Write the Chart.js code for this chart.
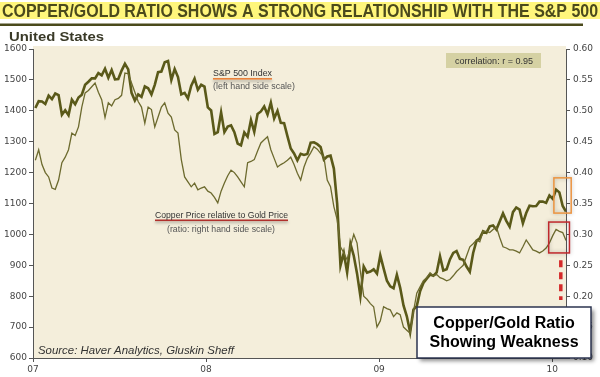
<!DOCTYPE html>
<html>
<head>
<meta charset="utf-8">
<script src="https://cdn.jsdelivr.net/npm/chart.js@4.4.1/dist/chart.umd.min.js"></script>
<style>
  html, body { margin: 0; padding: 0; background: #fff; }
  #wrap { width: 600px; height: 377px; }
</style>
</head>
<body>
<div id="wrap"><canvas id="chart" width="600" height="377"></canvas></div>
<script>
// weekly closes, first week ends Jan 5 2007
const firstDay = 5;

const spx = [
  1409, 1431, 1430, 1422, 1449, 1438, 1456, 1451, 1387, 1402,
  1386, 1436, 1421, 1443, 1452, 1484, 1494, 1505, 1505, 1522,
  1515, 1536, 1507, 1532, 1502, 1503, 1530, 1552, 1534, 1458,
  1433, 1453, 1445, 1479, 1473, 1453, 1484, 1525, 1527, 1557,
  1561, 1500, 1535, 1509, 1453, 1458, 1440, 1481, 1504, 1468,
  1484, 1478,
  1411, 1401, 1325, 1331, 1395, 1331, 1349, 1353, 1331, 1294,
  1288, 1330, 1316, 1370, 1332, 1390, 1398, 1414, 1388, 1426,
  1375, 1400, 1361, 1360, 1318, 1278, 1262, 1240, 1261, 1257,
  1260, 1297, 1298, 1292, 1283, 1242, 1252, 1255, 1213, 1099,
  899, 940, 877, 969, 931, 873, 800, 896, 876, 880,
  887, 873,
  932, 890, 850, 832, 826, 869, 827, 770, 735, 683,
  757, 768, 816, 843, 857, 870, 866, 877, 929, 883,
  887, 919, 940, 946, 921, 918, 896, 879, 940, 979,
  987, 1010, 1005, 1026, 1029, 1016, 1042, 1068, 1044, 1025,
  1072, 1087, 1080, 1036, 1069, 1093, 1091, 1092, 1106, 1106,
  1102, 1126, 1115,
  1145, 1136, 1092, 1074
];

const copperGold = [
  0.420, 0.437, 0.413, 0.400, 0.393, 0.375, 0.373, 0.388, 0.416, 0.425,
  0.437, 0.464, 0.460, 0.474, 0.506, 0.529, 0.533, 0.539, 0.545, 0.530,
  0.518, 0.489, 0.513, 0.508, 0.518, 0.520, 0.525, 0.561, 0.560, 0.545,
  0.530, 0.515, 0.506, 0.480, 0.506, 0.502, 0.474, 0.490, 0.506, 0.513,
  0.496, 0.490, 0.469, 0.464, 0.421, 0.393, 0.385, 0.377, 0.383, 0.372,
  0.375, 0.377, 0.370, 0.367, 0.360, 0.351, 0.370, 0.383, 0.395, 0.404,
  0.400, 0.393, 0.385, 0.377, 0.416, 0.418, 0.421, 0.435, 0.448, 0.453,
  0.458, 0.437, 0.423, 0.409, 0.413, 0.416, 0.420, 0.425, 0.413, 0.399,
  0.388, 0.409, 0.423, 0.432, 0.442, 0.438, 0.431, 0.425, 0.388, 0.377,
  0.345, 0.324, 0.280, 0.270, 0.259, 0.280, 0.300, 0.286, 0.240, 0.200,
  0.195, 0.188, 0.183, 0.150, 0.160, 0.183, 0.180, 0.178, 0.167, 0.173,
  0.170, 0.150, 0.145, 0.140, 0.175, 0.205, 0.215, 0.225, 0.230, 0.238,
  0.233, 0.235, 0.230, 0.228, 0.225, 0.227, 0.233, 0.240, 0.245, 0.250,
  0.265, 0.280, 0.285, 0.291, 0.288, 0.305, 0.305, 0.303, 0.308, 0.312,
  0.295, 0.280, 0.278, 0.275, 0.275, 0.273, 0.270, 0.280, 0.291, 0.283,
  0.275, 0.273, 0.270, 0.273, 0.278, 0.286, 0.298, 0.308, 0.305, 0.303,
  0.290
];

const yearTicks = [2007, 2008, 2009, 2010];
const yearLabels = ["07", "08", "09", "10"];

const weekX = spx.map((_, i) => 2007 + (firstDay + 7 * i) / 365.25);

const olive = "#5a5919";
const axisColor = "#555";

function fitText(ctx, str, x, y, width, font, color) {
  ctx.save();
  ctx.font = font;
  ctx.fillStyle = color;
  ctx.textBaseline = "alphabetic";
  ctx.textAlign = "left";
  const w = ctx.measureText(str).width;
  ctx.translate(x, y);
  ctx.scale(width / w, 1);
  ctx.fillText(str, 0, 0);
  ctx.restore();
}

const decor = {
  id: "decor",
  beforeDraw(chart) {
    const { ctx, chartArea: a } = chart;
    ctx.save();
    ctx.fillStyle = "#f4eedb";
    ctx.fillRect(a.left, a.top - 3, a.right - a.left, a.bottom - a.top + 3);
    ctx.restore();
  },
  afterDraw(chart) {
    const ctx = chart.ctx;
    const x = chart.scales.x, yl = chart.scales.y, yr = chart.scales.y2;

    // title
    ctx.save();
    ctx.fillStyle = "#fff67c";
    ctx.fillRect(0, 2, 600, 17);
    ctx.restore();
    fitText(ctx, "COPPER/GOLD RATIO SHOWS A STRONG RELATIONSHIP WITH THE S&P 500", 2, 17, 596,
      'bold 19px "Liberation Sans Narrow", "Liberation Sans", sans-serif', "#4b4a1c");
    ctx.fillStyle = "#4b4a1c";
    ctx.fillRect(0, 23.5, 583, 2.5);
    fitText(ctx, "United States", 9, 41, 95, 'bold 13px "Liberation Sans", sans-serif', "#3a3a28");

    // series labels
    fitText(ctx, "S&P 500 Index", 213, 76, 59, '9px "Liberation Sans", sans-serif', "#333");
    ctx.save();
    ctx.shadowColor = "rgba(0,0,0,0.35)";
    ctx.shadowBlur = 3;
    ctx.shadowOffsetY = 2;
    ctx.fillStyle = "#e9813a";
    ctx.fillRect(213, 78, 59, 1.6);
    ctx.fillStyle = "#b0302c";
    ctx.fillRect(155, 219.5, 133, 1.6);
    ctx.restore();
    fitText(ctx, "(left hand side scale)", 213, 89, 82, '9px "Liberation Sans", sans-serif', "#555");
    fitText(ctx, "Copper Price relative to Gold Price", 155, 218, 133, '9px "Liberation Sans", sans-serif', "#333");
    fitText(ctx, "(ratio: right hand side scale)", 167, 232, 108, '9px "Liberation Sans", sans-serif', "#555");

    // correlation box
    ctx.fillStyle = "#d5d1a3";
    ctx.fillRect(446, 53, 95, 15);
    fitText(ctx, "correlation: r = 0.95", 455, 64, 78, '9px "Liberation Sans", sans-serif', "#333");

    // highlight boxes
    ctx.save();
    ctx.shadowColor = "rgba(0,0,0,0.3)";
    ctx.shadowBlur = 4;
    ctx.lineWidth = 1.5;
    ctx.strokeStyle = "#ec9440";
    let x0 = x.getPixelForValue(2010.01), x1 = x.getPixelForValue(2010.11);
    let t = yl.getPixelForValue(1183), b = yl.getPixelForValue(1069);
    ctx.strokeRect(x0, t, x1 - x0, b - t);
    ctx.strokeStyle = "#c0282c";
    x0 = x.getPixelForValue(2009.98); x1 = x.getPixelForValue(2010.10);
    t = yr.getPixelForValue(0.32); b = yr.getPixelForValue(0.27);
    ctx.strokeRect(x0, t, x1 - x0, b - t);
    ctx.restore();

    ctx.save();
    ctx.strokeStyle = "#d42a2a";
    ctx.lineWidth = 3.5;
    ctx.setLineDash([7, 5]);
    const xd = x.getPixelForValue(2010.05);
    ctx.beginPath();
    ctx.moveTo(xd, yr.getPixelForValue(0.258));
    ctx.lineTo(xd, yr.getPixelForValue(0.194));
    ctx.stroke();
    ctx.restore();

    // callout box
    ctx.save();
    ctx.shadowColor = "rgba(0,0,0,0.45)";
    ctx.shadowBlur = 4;
    ctx.shadowOffsetX = 3;
    ctx.shadowOffsetY = 3;
    ctx.fillStyle = "#fff";
    ctx.fillRect(417, 307, 174, 51);
    ctx.restore();
    ctx.save();
    ctx.strokeStyle = "#2d3550";
    ctx.lineWidth = 1.5;
    ctx.strokeRect(417, 307, 174, 51);
    ctx.fillStyle = "#000";
    ctx.font = 'bold 16px "Liberation Sans", sans-serif';
    ctx.textAlign = "center";
    ctx.fillText("Copper/Gold Ratio", 504, 328);
    ctx.fillText("Showing Weakness", 504, 347);
    ctx.restore();

    fitText(ctx, "Source: Haver Analytics, Gluskin Sheff", 38, 354, 196,
      'italic 11px "Liberation Sans", sans-serif', "#333");
  }
};

const tickFont = { family: "DejaVu Sans", size: 9 };

const config = {
  type: "line",
  data: {
    datasets: [
      {
        label: "Copper/Gold",
        data: copperGold.map((v, i) => ({ x: weekX[i], y: v })),
        yAxisID: "y2",
        borderColor: "#6c6a2e",
        borderWidth: 1.3,
        pointRadius: 0,
        tension: 0,
      },
      {
        label: "S&P 500",
        data: spx.map((v, i) => ({ x: weekX[i], y: v })),
        yAxisID: "y",
        borderColor: olive,
        borderWidth: 2.6,
        pointRadius: 0,
        tension: 0,
      },
    ],
  },
  options: {
    responsive: false,
    animation: false,
    events: [],
    layout: { padding: { top: 49, left: 0, right: 0, bottom: 0 } },
    plugins: { legend: { display: false }, tooltip: { enabled: false } },
    scales: {
      x: {
        type: "linear",
        min: 2007,
        max: 2010.08,
        afterBuildTicks: (scale) => {
          scale.ticks = yearTicks.map((v) => ({ value: v }));
        },
        afterFit: (scale) => { scale.height = 19; },
        ticks: {
          autoSkip: false,
          maxRotation: 0,
          padding: 2,
          color: "#444",
          font: tickFont,
          callback: (v) => yearLabels[yearTicks.indexOf(v)],
        },
        grid: { drawOnChartArea: false, tickLength: 4, color: axisColor },
        border: { color: axisColor },
      },
      y: {
        position: "left",
        min: 600,
        max: 1600,
        afterFit: (scale) => { scale.width = 33; },
        ticks: {
          stepSize: 100,
          padding: 2,
          color: "#444",
          font: tickFont,
          callback: (v) => String(v),
        },
        grid: { drawOnChartArea: false, tickLength: 4, color: axisColor },
        border: { color: axisColor },
      },
      y2: {
        position: "right",
        min: 0.1,
        max: 0.6,
        afterFit: (scale) => { scale.width = 34; },
        ticks: {
          stepSize: 0.05,
          padding: 3,
          color: "#444",
          font: tickFont,
          callback: (v) => v.toFixed(2),
        },
        grid: { drawOnChartArea: false, tickLength: 4, color: axisColor },
        border: { color: axisColor },
      },
    },
  },
  plugins: [decor],
};

new Chart(document.getElementById("chart").getContext("2d"), config);
</script>
</body>
</html>
